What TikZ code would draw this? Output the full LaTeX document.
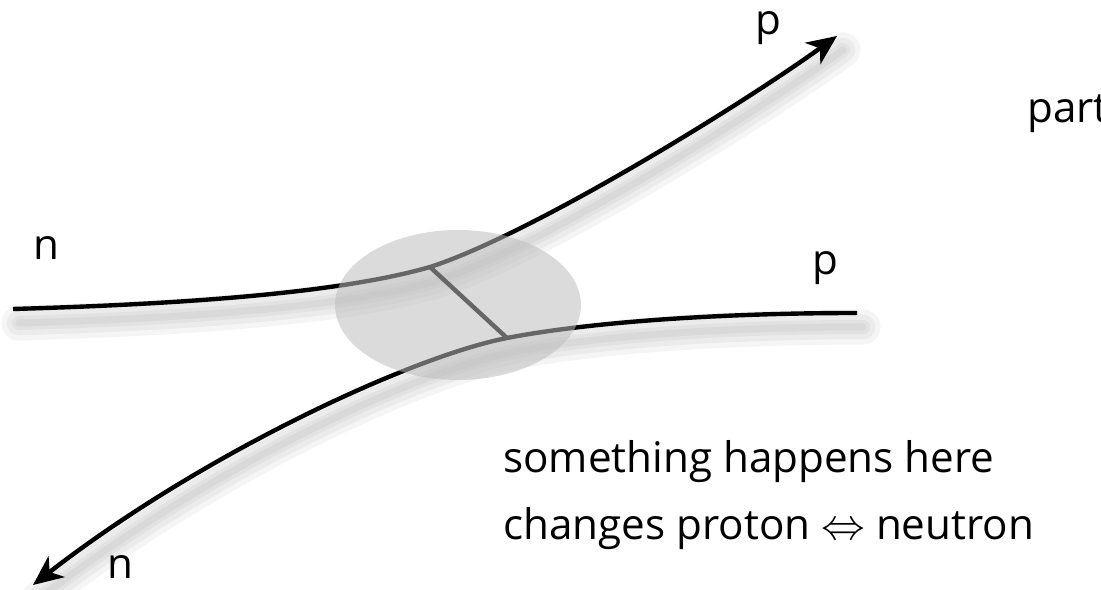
\documentclass[tikz,border=0pt]{standalone}
\usepackage{fontspec}
\setmainfont{Open Sans}
\usetikzlibrary{arrows.meta, positioning, shapes.geometric}
\tikzset{
    trackLine/.style={line width=2.5pt, -{Stealth[length=17pt, width=15pt, inset=5pt]}},
    linkLine/.style={line width=2.5pt},
    shadowLine/.style={draw=black, opacity=0.04, line cap=round},
    blob/.style={ellipse, fill=black!26, fill opacity=0.54, minimum width=4.92cm, minimum height=3cm, inner sep=0pt},
    tagText/.style={font=\fontsize{24}{29}\selectfont, inner sep=0pt, anchor=base west}
}

\begin{document}
\begin{tikzpicture}[x=0.02cm, y=-0.02cm]
    \clip (0,0) rectangle (1101,590);
    \coordinate (nIn) at (13,309);   \coordinate (pOut) at (837,36);
    \coordinate (pIn) at (857,313);  \coordinate (nOut) at (33,585);
    \coordinate (vUp) at (430,267);  \coordinate (vLow) at (507,338);
    % soft shadows under the tracks
    \foreach \w in {20,14,8,4}{
        \draw[shadowLine, line width=\w pt, shift={(6,14)}] (13,309) .. controls (150,305) and (330,296) .. (430,267) .. controls (530,235) and (740,106) .. (837,36);
        \draw[shadowLine, line width=\w pt, shift={(6,14)}] (857,313) .. controls (720,313) and (590,322) .. (507,338) .. controls (410,357) and (200,455) .. (33,585);
    }
    \draw[trackLine] (nIn) .. controls (150,305) and (330,296) .. (vUp) .. controls (530,235) and (740,106) .. (pOut);
    \draw[trackLine] (pIn) .. controls (720,313) and (590,322) .. (vLow) .. controls (410,357) and (200,455) .. (nOut);
    \draw[linkLine] (vUp) -- (vLow);
    \node[blob] (exchange) at (458,305) {};
    \node[tagText] (pTop) at (755,35) {p};
    \node[tagText] (nLeft) at (33,260) {n};
    \node[tagText] (pRight) at (812,275) {p};
    \node[tagText] (nBottom) at (107,578) {n};
    \node[tagText] (partLabel) at (1027,123) {part};
    \node[tagText] (noteA) at (503,473) {something happens here};
    \node[tagText] (noteB) at (503,540) {changes proton $\Leftrightarrow$ neutron};
\end{tikzpicture}
\end{document}
